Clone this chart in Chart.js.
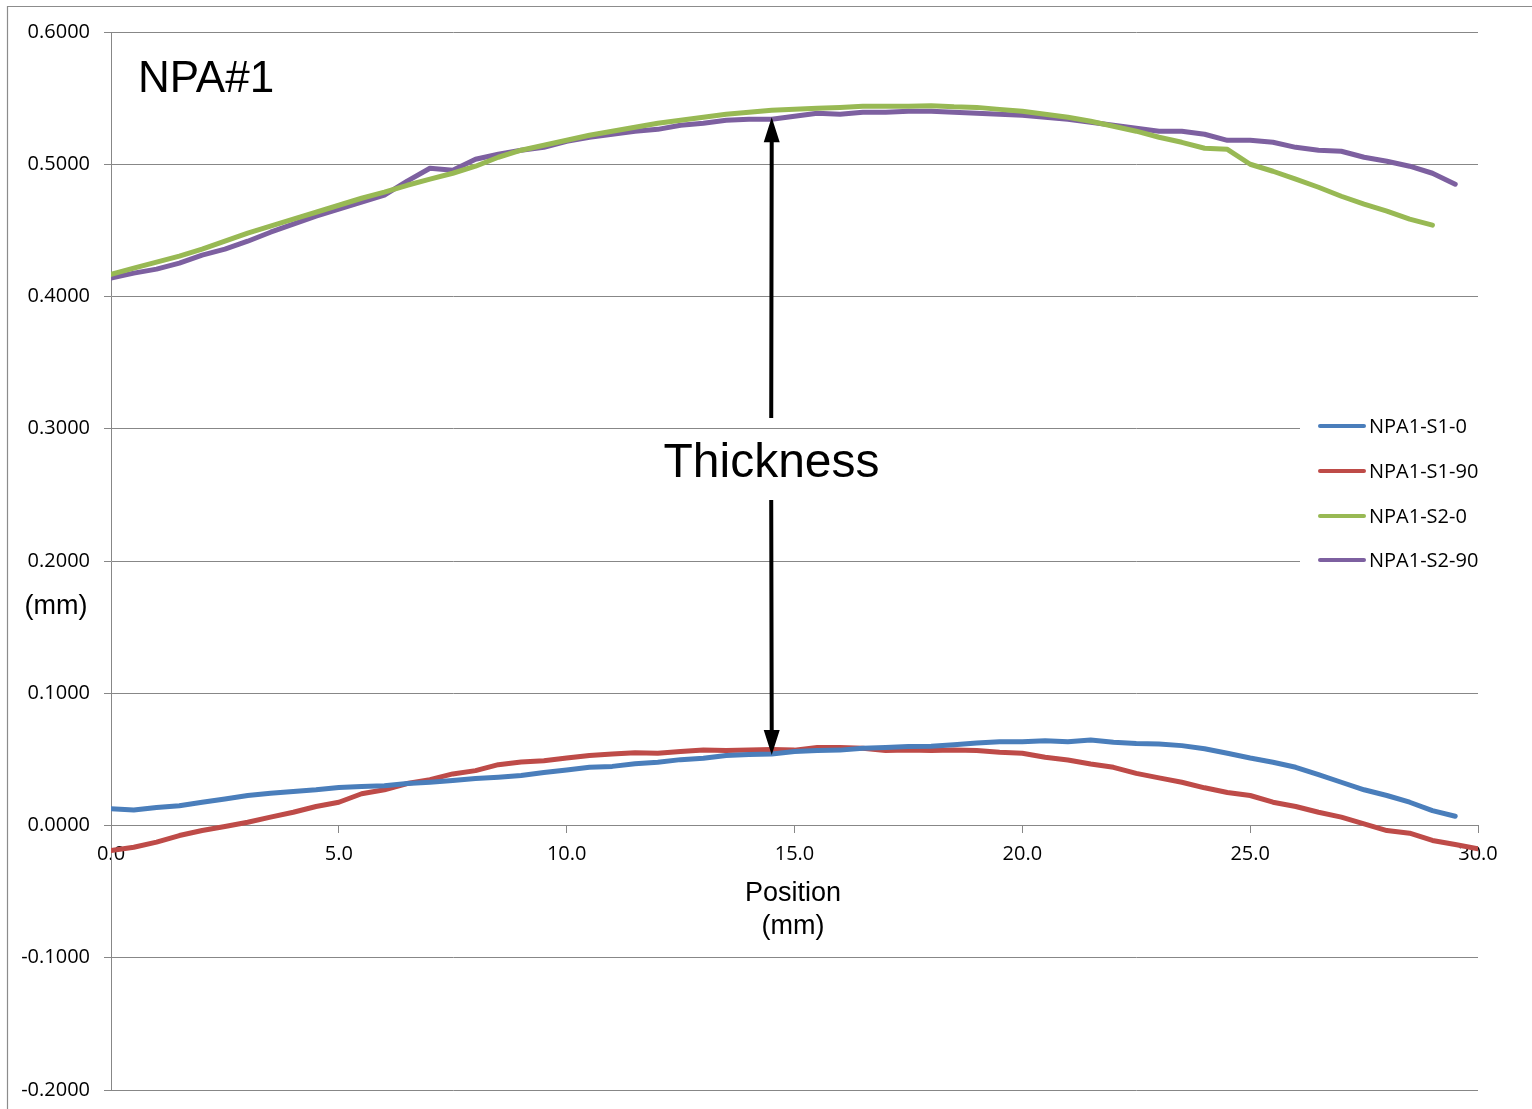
<!DOCTYPE html>
<html>
<head>
<meta charset="utf-8">
<title>NPA#1 thickness profile</title>
<script src="https://cdn.jsdelivr.net/npm/chart.js@4.4.1/dist/chart.umd.min.js"></script>
<style>
  html, body { margin: 0; padding: 0; background: #ffffff; }
  #wrap { position: relative; width: 1532px; height: 1109px; }
  canvas { display: block; }
</style>
</head>
<body>
<div id="wrap"><canvas id="chart" width="1532" height="1109"></canvas></div>
<script>
// Measurement positions along the sample (mm)
const positionMm = [
  0.0, 0.5, 1.0, 1.5, 2.0, 2.5, 3.0, 3.5, 4.0, 4.5,
  5.0, 5.5, 6.0, 6.5, 7.0, 7.5, 8.0, 8.5, 9.0, 9.5,
  10.0, 10.5, 11.0, 11.5, 12.0, 12.5, 13.0, 13.5, 14.0, 14.5,
  15.0, 15.5, 16.0, 16.5, 17.0, 17.5, 18.0, 18.5, 19.0, 19.5,
  20.0, 20.5, 21.0, 21.5, 22.0, 22.5, 23.0, 23.5, 24.0, 24.5,
  25.0, 25.5, 26.0, 26.5, 27.0, 27.5, 28.0, 28.5, 29.0, 29.5, 30.0
];

// Surface height readings (mm) for each scan
const npa1S1_0 = [
  0.0126, 0.0118, 0.0136, 0.0150, 0.0176, 0.0200, 0.0227, 0.0244, 0.0257, 0.0270,
  0.0287, 0.0295, 0.0300, 0.0317, 0.0327, 0.0340, 0.0355, 0.0365, 0.0378, 0.0400,
  0.0420, 0.0440, 0.0447, 0.0467, 0.0478, 0.0498, 0.0508, 0.0529, 0.0536, 0.0540,
  0.0560, 0.0567, 0.0570, 0.0584, 0.0590, 0.0597, 0.0600, 0.0610, 0.0623, 0.0634,
  0.0634, 0.0640, 0.0634, 0.0646, 0.0630, 0.0620, 0.0616, 0.0604, 0.0580, 0.0546,
  0.0510, 0.0478, 0.0440, 0.0385, 0.0327, 0.0270, 0.0227, 0.0176, 0.0113, 0.0070, null
];
const npa1S1_90 = [
  -0.0190, -0.0164, -0.0126, -0.0076, -0.0038, -0.0008, 0.0025, 0.0063, 0.0100, 0.0144,
  0.0176, 0.0240, 0.0270, 0.0317, 0.0347, 0.0390, 0.0415, 0.0460, 0.0480, 0.0490,
  0.0510, 0.0530, 0.0540, 0.0550, 0.0546, 0.0560, 0.0570, 0.0567, 0.0570, 0.0574,
  0.0570, 0.0590, 0.0590, 0.0584, 0.0567, 0.0570, 0.0567, 0.0570, 0.0567, 0.0553,
  0.0546, 0.0516, 0.0495, 0.0465, 0.0440, 0.0394, 0.0360, 0.0327, 0.0285, 0.0250,
  0.0227, 0.0176, 0.0144, 0.0100, 0.0063, 0.0013, -0.0038, -0.0058, -0.0113, -0.0144, -0.0176
];
const npa1S2_0 = [
  0.4167, 0.4215, 0.4260, 0.4305, 0.4358, 0.4418, 0.4479, 0.4532, 0.4585, 0.4637,
  0.4690, 0.4743, 0.4789, 0.4841, 0.4887, 0.4932, 0.4985, 0.5053, 0.5106, 0.5144,
  0.5181, 0.5219, 0.5250, 0.5280, 0.5310, 0.5332, 0.5355, 0.5378, 0.5393, 0.5408,
  0.5415, 0.5423, 0.5430, 0.5438, 0.5438, 0.5438, 0.5442, 0.5434, 0.5430, 0.5415,
  0.5400, 0.5378, 0.5355, 0.5325, 0.5287, 0.5250, 0.5204, 0.5166, 0.5121, 0.5113,
  0.5000, 0.4947, 0.4887, 0.4826, 0.4758, 0.4698, 0.4645, 0.4585, 0.4540, null, null
];
const npa1S2_90 = [
  0.4139, 0.4177, 0.4207, 0.4252, 0.4313, 0.4358, 0.4418, 0.4486, 0.4547, 0.4607,
  0.4660, 0.4713, 0.4766, 0.4872, 0.4970, 0.4955, 0.5038, 0.5076, 0.5106, 0.5128,
  0.5174, 0.5204, 0.5227, 0.5250, 0.5264, 0.5295, 0.5310, 0.5332, 0.5340, 0.5340,
  0.5363, 0.5385, 0.5378, 0.5393, 0.5393, 0.5400, 0.5400, 0.5393, 0.5385, 0.5378,
  0.5370, 0.5355, 0.5340, 0.5317, 0.5295, 0.5272, 0.5249, 0.5249, 0.5227, 0.5181,
  0.5181, 0.5166, 0.5128, 0.5106, 0.5098, 0.5053, 0.5023, 0.4985, 0.4932, 0.4849, null
];

const seriesNames = ['NPA1-S1-0', 'NPA1-S1-90', 'NPA1-S2-0', 'NPA1-S2-90'];
const seriesValues = [npa1S1_0, npa1S1_90, npa1S2_0, npa1S2_90];
const seriesColors = ['#4A7EBB', '#BE4B48', '#98B954', '#7D60A0'];

const xTickValues = [0, 5, 10, 15, 20, 25, 30];
const yTickValues = [-0.2, -0.1, 0, 0.1, 0.2, 0.3, 0.4, 0.5, 0.6];

// Position at which the thickness arrows are drawn (mm)
const arrowPositionMm = 14.5;

const GRID = '#878787';
const TICK_FONT = { family: '"Open Sans", sans-serif', size: 20 };

function toPoints(values) {
  const pts = [];
  values.forEach((v, i) => { if (v !== null) pts.push({ x: positionMm[i], y: v }); });
  return pts;
}

const datasets = seriesNames.map((name, i) => ({
  label: name,
  data: toPoints(seriesValues[i]),
  borderColor: seriesColors[i],
  backgroundColor: seriesColors[i],
  borderWidth: 5,
  borderCapStyle: 'round',
  borderJoinStyle: 'round',
  pointRadius: 0,
  tension: 0,
  fill: false
}));

// Frame, titles, arrows and legend
const decorations = {
  id: 'decorations',
  afterDraw(chart) {
    const ctx = chart.ctx;
    const xs = chart.scales.x, ys = chart.scales.y;
    ctx.save();

    // outer frame (top and left edges)
    ctx.strokeStyle = '#8c8c8c';
    ctx.lineWidth = 1.2;
    ctx.beginPath();
    ctx.moveTo(1532, 6.5);
    ctx.lineTo(7.5, 6.5);
    ctx.lineTo(7.5, 1109);
    ctx.stroke();

    ctx.fillStyle = '#000000';
    ctx.textBaseline = 'alphabetic';
    ctx.textAlign = 'left';
    ctx.font = '44px "Liberation Sans", Arial, sans-serif';
    ctx.fillText('NPA#1', 138, 92);

    ctx.textAlign = 'center';
    ctx.font = '48px "Liberation Sans", Arial, sans-serif';
    ctx.fillText('Thickness', 771.5, 477);

    ctx.textBaseline = 'middle';
    ctx.font = '27px "Liberation Sans", Arial, sans-serif';
    ctx.fillText('(mm)', 56, 607);
    ctx.fillText('Position', 793, 894);
    ctx.fillText('(mm)', 793, 927);

    // arrows pointing at the two surfaces
    const idx = positionMm.indexOf(arrowPositionMm);
    const ax = xs.getPixelForValue(arrowPositionMm);
    const topTip = ys.getPixelForValue(npa1S2_90[idx]) - 2;
    const botTip = ys.getPixelForValue(npa1S1_0[idx]) + 1;
    const headLen = 25, headHalf = 8;
    ctx.strokeStyle = '#000000';
    ctx.lineWidth = 4;
    ctx.lineCap = 'butt';
    ctx.beginPath();
    ctx.moveTo(ax - 0.5, 418);
    ctx.lineTo(ax, topTip + headLen - 2);
    ctx.moveTo(ax - 0.5, 500);
    ctx.lineTo(ax, botTip - headLen + 2);
    ctx.stroke();
    ctx.beginPath();
    ctx.moveTo(ax, topTip);
    ctx.lineTo(ax - headHalf, topTip + headLen);
    ctx.lineTo(ax + headHalf, topTip + headLen);
    ctx.closePath();
    ctx.moveTo(ax, botTip);
    ctx.lineTo(ax - headHalf, botTip - headLen);
    ctx.lineTo(ax + headHalf, botTip - headLen);
    ctx.closePath();
    ctx.fill();

    // legend
    ctx.fillStyle = '#ffffff';
    ctx.fillRect(1300, 404, 200, 180);
    const rows = [426, 471, 516, 560];
    ctx.textAlign = 'left';
    ctx.textBaseline = 'middle';
    ctx.font = '20px "Open Sans", sans-serif';
    chart.data.datasets.forEach((ds, i) => {
      ctx.strokeStyle = ds.borderColor;
      ctx.lineWidth = 4;
      ctx.lineCap = 'round';
      ctx.beginPath();
      ctx.moveTo(1320, rows[i]);
      ctx.lineTo(1364, rows[i]);
      ctx.stroke();
      ctx.fillStyle = '#000000';
      ctx.fillText(ds.label, 1369, rows[i] + 1);
    });
    ctx.restore();
  }
};

new Chart(document.getElementById('chart'), {
  type: 'line',
  data: { datasets },
  options: {
    responsive: false,
    animation: false,
    devicePixelRatio: 1,
    layout: { padding: { left: 0, top: 32, right: 54, bottom: 19 } },
    plugins: { legend: { display: false }, tooltip: { enabled: false } },
    scales: {
      x: {
        type: 'linear',
        min: 0,
        max: 30,
        position: { y: 0 },
        afterBuildTicks: s => { s.ticks = xTickValues.map(v => ({ value: v })); },
        ticks: {
          color: '#000000',
          font: TICK_FONT,
          padding: 10,
          maxRotation: 0,
          autoSkip: false,
          callback: v => Number(v).toFixed(1)
        },
        grid: { drawOnChartArea: false, drawTicks: true, tickLength: 7, color: GRID, lineWidth: 1 },
        border: { display: true, color: GRID, width: 1 }
      },
      y: {
        type: 'linear',
        min: -0.2,
        max: 0.6,
        position: 'left',
        afterFit: s => { s.width = 111; s.paddingTop = 0; s.paddingBottom = 0; },
        afterBuildTicks: s => { s.ticks = yTickValues.map(v => ({ value: v })); },
        ticks: {
          color: '#000000',
          font: TICK_FONT,
          padding: 14,
          autoSkip: false,
          callback: v => Number(v).toFixed(4)
        },
        grid: { color: GRID, lineWidth: 1, tickLength: 7, drawTicks: true },
        border: { display: true, color: GRID, width: 1 }
      }
    }
  },
  plugins: [decorations]
});
</script>
</body>
</html>
